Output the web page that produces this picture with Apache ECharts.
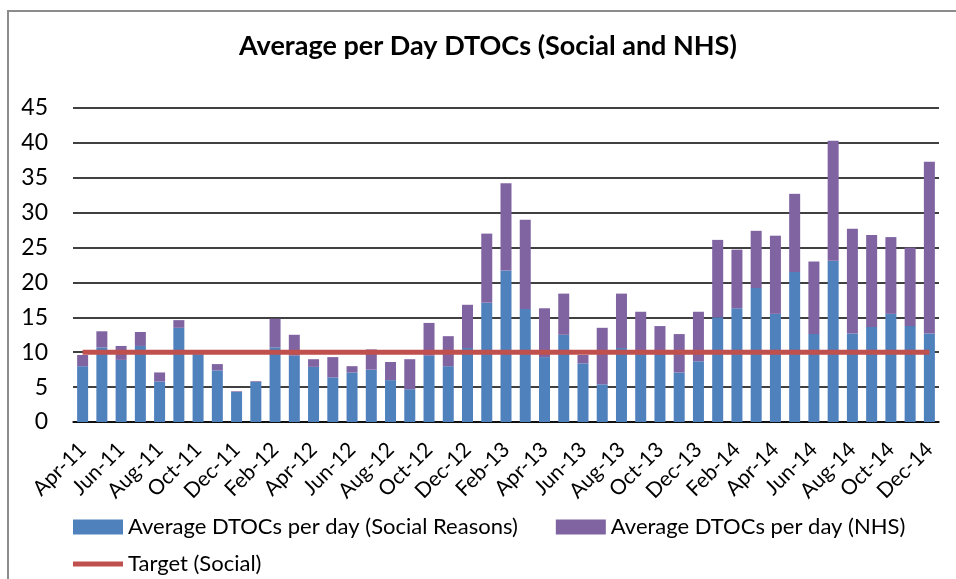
<!DOCTYPE html>
<html>
<head>
<meta charset="UTF-8">
<title>Average per Day DTOCs</title>
<script src="https://cdn.jsdelivr.net/npm/echarts@6/dist/echarts.min.js"></script>
<style>
  html, body { margin: 0; padding: 0; background: #fff; }
  #main { width: 956px; height: 579px; }
</style>
</head>
<body>
<div id="main"></div>
<script type="text/javascript">
// months Apr-11 .. Dec-14
var months = [
  'Apr-11','May-11','Jun-11','Jul-11','Aug-11','Sep-11','Oct-11','Nov-11','Dec-11',
  'Jan-12','Feb-12','Mar-12','Apr-12','May-12','Jun-12','Jul-12','Aug-12','Sep-12','Oct-12','Nov-12','Dec-12',
  'Jan-13','Feb-13','Mar-13','Apr-13','May-13','Jun-13','Jul-13','Aug-13','Sep-13','Oct-13','Nov-13','Dec-13',
  'Jan-14','Feb-14','Mar-14','Apr-14','May-14','Jun-14','Jul-14','Aug-14','Sep-14','Oct-14','Nov-14','Dec-14'
];

var social = [
  8.0, 10.7, 8.9, 10.9, 5.8, 13.5, 9.7, 7.4, 4.3,
  5.75, 10.7, 9.5, 7.9, 6.4, 7.1, 7.5, 6.0, 4.7, 9.5, 8.0, 10.6,
  17.1, 21.7, 16.2, 9.3, 12.5, 8.4, 5.4, 10.6, 9.6, 9.6, 7.1, 8.7,
  15.0, 16.3, 19.2, 15.5, 21.5, 12.6, 23.1, 12.7, 13.6, 15.5, 13.75, 12.7
];

var nhs = [
  1.6, 2.3, 2.0, 2.0, 1.3, 1.1, 0.1, 0.9, 0.1,
  0.1, 4.1, 3.0, 1.1, 2.9, 0.9, 2.9, 2.6, 4.3, 4.7, 4.3, 6.2,
  9.9, 12.5, 12.8, 7.0, 5.9, 1.2, 8.1, 7.8, 6.2, 4.15, 5.5, 7.1,
  11.1, 8.4, 8.2, 11.2, 11.2, 10.4, 17.2, 15.0, 13.2, 11.0, 11.25, 24.6
];

var target = months.map(function () { return 10; });

var yTicks = { min: 0, max: 45, interval: 5 };

var font = 'Lato, "Noto Sans", sans-serif';

var myChart = echarts.init(document.getElementById('main'));

var option = {
  animation: false,
  backgroundColor: '#fff',
  textStyle: { fontFamily: font, color: '#000' },
  title: {
    text: 'Average per Day DTOCs (Social and NHS)',
    left: 234,
    top: 28,
    textStyle: { fontFamily: font, fontSize: 27, fontWeight: 'bold', color: '#000' }
  },
  graphic: [{
    type: 'rect',
    shape: { x: 8, y: 11, width: 1000, height: 1000 },
    style: { fill: 'none', stroke: '#8c8c8c', lineWidth: 2 },
    silent: true
  }],
  legend: [
    {
      data: ['Average DTOCs per day (Social Reasons)', 'Average DTOCs per day (NHS)'],
      left: 68, top: 511,
      icon: 'rect', itemWidth: 50, itemHeight: 15, itemGap: 38,
      textStyle: { fontFamily: font, fontSize: 22, color: '#000' }
    },
    {
      data: ['Target (Social)'],
      left: 68, top: 548,
      icon: 'rect', itemWidth: 50, itemHeight: 5,
      textStyle: { fontFamily: font, fontSize: 22, color: '#000' }
    }
  ],
  grid: { left: 73, right: 17, top: 108, bottom: 157 },
  xAxis: {
    type: 'category',
    data: months,
    boundaryGap: true,
    axisLine: { lineStyle: { color: '#000', width: 1.5 } },
    axisTick: { show: false },
    axisLabel: {
      interval: 1,
      rotate: 45,
      fontFamily: font,
      fontSize: 21,
      color: '#000',
      margin: 24
    }
  },
  yAxis: {
    type: 'value',
    min: yTicks.min, max: yTicks.max, interval: yTicks.interval,
    axisLine: { show: false },
    axisTick: { show: false },
    splitLine: { lineStyle: { color: '#000', width: 1.5 } },
    axisLabel: { fontFamily: font, fontSize: 23, color: '#000', margin: 25 }
  },
  series: [
    {
      name: 'Average DTOCs per day (Social Reasons)',
      type: 'bar',
      stack: 'dtoc',
      data: social,
      barWidth: 11,
      itemStyle: { color: '#4F81BD' }
    },
    {
      name: 'Average DTOCs per day (NHS)',
      type: 'bar',
      stack: 'dtoc',
      data: nhs,
      barWidth: 11,
      itemStyle: { color: '#8064A2' }
    },
    {
      name: 'Target (Social)',
      type: 'line',
      data: target,
      symbol: 'none',
      lineStyle: { color: '#C0504D', width: 5 },
      itemStyle: { color: '#C0504D' },
      z: 5
    }
  ]
};
myChart.setOption(option);
</script>
</body>
</html>
